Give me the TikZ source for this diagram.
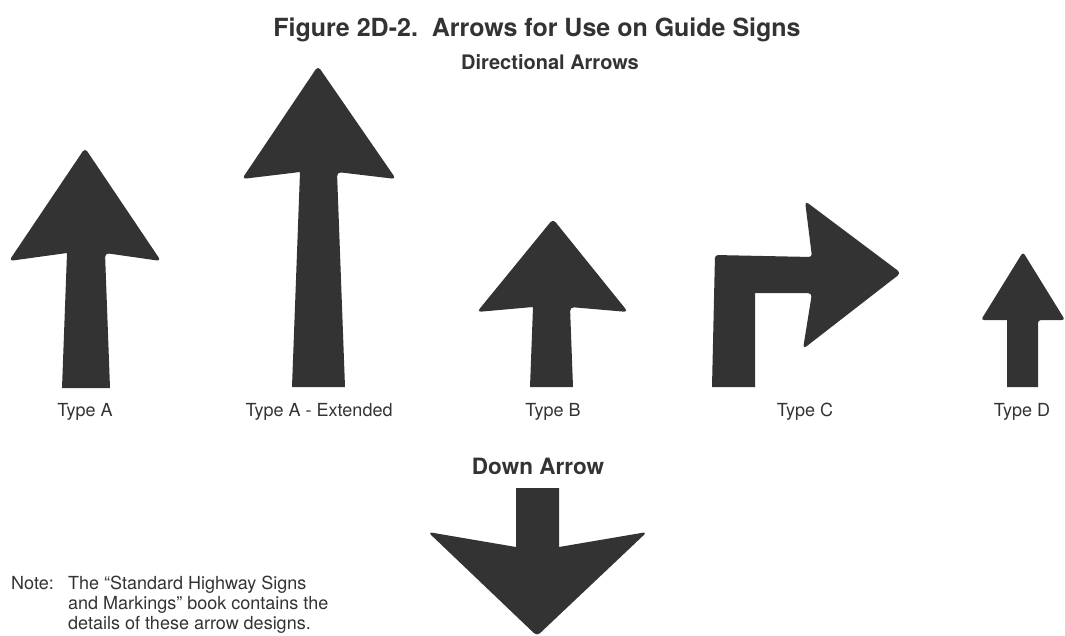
\documentclass[tikz,border=0pt]{standalone}
\usepackage{fontspec}
\setmainfont{TeX Gyre Heros}
\definecolor{ink}{HTML}{333333}
\begin{document}
\begin{tikzpicture}[x=1pt,y=-1pt,
  lbl/.style={text=ink,font=\fontsize{18}{21}\selectfont,inner sep=0pt,anchor=base},
  head/.style={text=ink,inner sep=0pt,anchor=base},
  note/.style={text=ink,font=\fontsize{18}{20}\selectfont,inner sep=0pt,anchor=base west}]
\useasboundingbox (0,0) rectangle (1065,635);

% Titles
\node[head,font=\bfseries\fontsize{25}{29}\selectfont] (title) at (537,36) {Figure 2D-2.\ \ Arrows for Use on Guide Signs};
\node[head,font=\bfseries\fontsize{20}{24}\selectfont] (sub) at (550,69) {Directional Arrows};

% Type A
\fill[ink] (62,388) -- (67,253) [rounded corners=4pt] -- (9,261) -- (85,148) -- (161,261) -- (105,253) [sharp corners] -- (110,388) -- cycle;
% Type A - Extended
\fill[ink] (292,387) -- (300,172) [rounded corners=4pt] -- (242,179) -- (318,66) -- (396,179) -- (337,172) [sharp corners] -- (345,387) -- cycle;
% Type B
\fill[ink] (530,387) -- (533,307) [rounded corners=4pt] -- (477,312) -- (553,219) -- (628,312) -- (570,307) [sharp corners] -- (573,387) -- cycle;
% Type C
\fill[ink] (712,387) [rounded corners=3pt] -- (715,255) -- (812,257) [rounded corners=4pt] -- (805,201) -- (901,273) -- (803,349) -- (812,293) [sharp corners] -- (755,293) -- (755,387) -- cycle;
% Type D
\fill[ink] (1007,387) -- (1007,320) [rounded corners=3pt] -- (981,320) -- (1023,252) -- (1065,320) -- (1038,320) [sharp corners] -- (1038,387) -- cycle;

% Labels
\node[lbl] (la) at (85,416) {Type A};
\node[lbl] (lae) at (319,416) {Type A - Extended};
\node[lbl] (lb) at (553,416) {Type B};
\node[lbl] (lc) at (805,416) {Type C};
\node[lbl] (ld) at (1022,416) {Type D};

% Down arrow
\node[head,font=\bfseries\fontsize{22.5}{26}\selectfont] (down) at (538,474) {Down Arrow};
\fill[ink] (516,488) -- (559,488) -- (559,547) [rounded corners=4pt] -- (647,532) -- (537,636) -- (428,532) [sharp corners] -- (516,547) -- cycle;

% Note
\node[note] (n1) at (11,589) {Note:};
\node[note] (n2) at (68,589) {The “Standard Highway Signs};
\node[note] (n3) at (68,609) {and Markings” book contains the};
\node[note] (n4) at (68,629) {details of these arrow designs.};
\end{tikzpicture}
\end{document}
